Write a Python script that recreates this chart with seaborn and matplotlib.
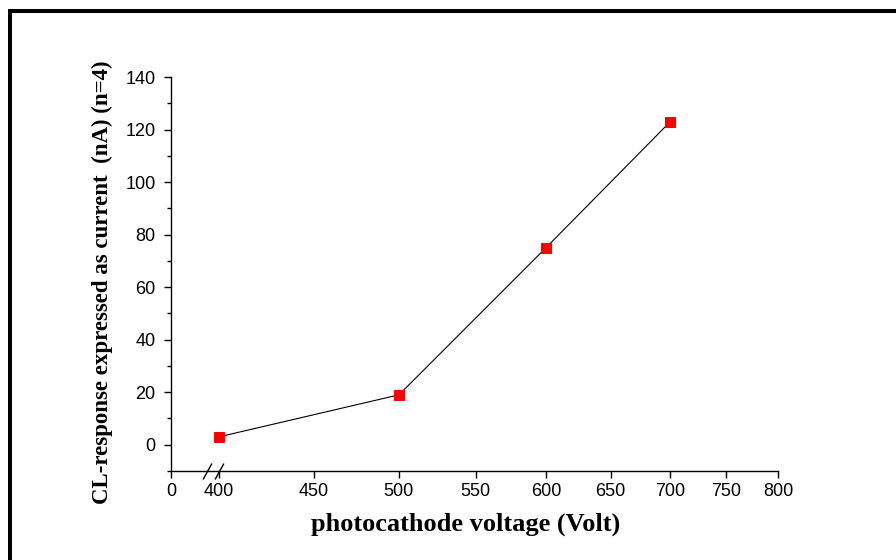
import numpy as np
import pandas as pd
import matplotlib.pyplot as plt
import matplotlib.patches as mpatches
import seaborn as sns

# photocathode voltage vs CL response
voltage = [400, 500, 600, 700]
current_nA = [3, 19, 75, 123]
x_ticks = [0, 400, 450, 500, 550, 600, 650, 700, 750, 800]
y_ticks = [0, 20, 40, 60, 80, 100, 120, 140]

df = pd.DataFrame({'voltage': voltage, 'current': current_nA})

sns.set_style('ticks')
plt.rcParams['font.family'] = ['Liberation Sans', 'DejaVu Sans']
plt.rcParams['text.color'] = 'black'
plt.rcParams['axes.labelcolor'] = 'black'

# broken axis: 0..400 squeezed into a short linear stub, log scale above 400
B = 0.0595
def fwd(x):
    x = np.asarray(x, dtype=float)
    return np.where(x >= 400, B + np.log(np.maximum(x, 1e-9) / 400), x / 400 * B)

def inv(y):
    y = np.asarray(y, dtype=float)
    return np.where(y >= B, 400 * np.exp(y - B), y / B * 400)

fig = plt.figure(figsize=(8.96, 5.6), dpi=100)
ax = fig.add_axes([0.1908, 0.1589, 0.6775, 0.7036])

sns.lineplot(data=df, x='voltage', y='current', ax=ax, color='black', lw=0.8,
             marker='s', markersize=7, markerfacecolor='red', markeredgecolor='red')

ax.set_xscale('function', functions=(fwd, inv))
ax.set_xlim(0, 800)
ax.set_ylim(-10, 140)
ax.set_xticks(x_ticks)
ax.set_xticklabels([str(t) for t in x_ticks])
ax.set_yticks(y_ticks)
ax.set_yticks(np.arange(-10, 140, 20), minor=True)
ax.tick_params(axis='both', which='major', direction='out', length=5, width=1,
               labelsize=13, colors='black')
ax.tick_params(axis='y', which='major', pad=6)
ax.tick_params(axis='y', which='minor', direction='out', length=3, width=1, colors='black')
ax.tick_params(axis='x', which='minor', length=0)
sns.despine(ax=ax)
for s in ['left', 'bottom']:
    ax.spines[s].set_linewidth(1)
    ax.spines[s].set_color('black')

# axis break marks
ax.plot([304, 400], [0, 0], transform=ax.get_xaxis_transform(), ls='none',
        marker=[(-1, -1.8), (1, 1.8)], ms=11.5, mew=1, color='black', clip_on=False)

ax.set_xlabel('photocathode voltage (Volt)', family='Liberation Serif',
              fontweight='bold', fontsize=19)
ax.set_ylabel('CL-response expressed as current  (nA) (n=4)', family='Liberation Serif',
              fontweight='bold', fontsize=16.5)
ax.xaxis.set_label_coords(0.486, -0.105)
ax.yaxis.set_label_coords(-0.096, 0.48)

# outer frame
fig.patches.append(mpatches.Rectangle((0.0117, -0.1), 1.2, 1.08125, transform=fig.transFigure,
                                      fill=False, lw=2.9, edgecolor='black'))

fig.savefig('out.png', dpi=100)
